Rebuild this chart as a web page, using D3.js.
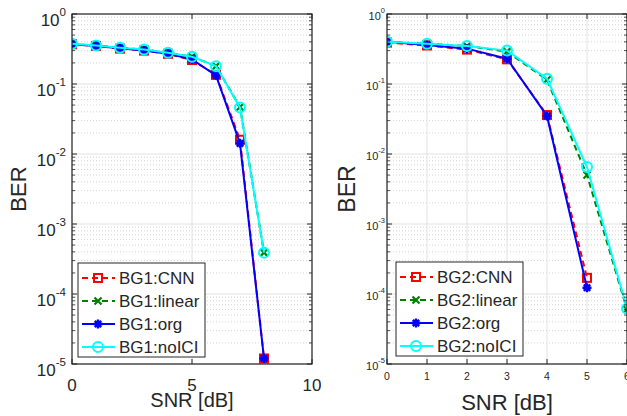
<!DOCTYPE html>
<html><head><meta charset="utf-8">
<script src="https://cdn.jsdelivr.net/npm/d3@7"></script>
<style>body{margin:0;background:#fff}svg{display:block;font-family:"Liberation Sans",Arial,Helvetica,sans-serif}</style>
</head><body><svg id="c" width="627" height="416"></svg>
<script>
const snr1 = [0,1,2,3,4,5,6,7,8];
const bg1CNN    = [0.37,0.35,0.32,0.30,0.27,0.22,0.135,0.016,1.2e-5];
const bg1Linear = [0.37,0.355,0.33,0.31,0.28,0.245,0.18,0.047,3.9e-4];
const bg1Org    = [0.37,0.35,0.325,0.30,0.27,0.225,0.133,0.0142,1.2e-5];
const bg1NoICI  = [0.375,0.355,0.33,0.31,0.28,0.245,0.18,0.046,3.9e-4];

const snr2 = [0,1,2,3,4,5,6];
const bg2CNN    = [0.39,0.355,0.31,0.225,0.036,1.7e-4];
const bg2Linear = [0.40,0.375,0.35,0.29,0.115,0.005,6e-5];
const bg2Org    = [0.40,0.36,0.32,0.23,0.035,1.23e-4];
const bg2NoICI  = [0.40,0.377,0.35,0.30,0.119,0.0065,6.2e-5];

const xTicks1 = [0,5,10];
const xTicks2 = [0,1,2,3,4,5,6];
const yExps = [0,-1,-2,-3,-4,-5];
const labels1 = ["BG1:CNN","BG1:linear","BG1:org","BG1:noICI"];
const labels2 = ["BG2:CNN","BG2:linear","BG2:org","BG2:noICI"];

const styles = [
  {color:"#ff0000", dash:"6,4", marker:"square"},
  {color:"#008000", dash:"6,4", marker:"x"},
  {color:"#0000ff", dash:null, marker:"star"},
  {color:"#00ffff", dash:null, marker:"circle"}
];

const svg = d3.select("#c");
const AX = "#262626";

function marker(g, type, x, y, color){
  if(type==="square"){
    g.append("rect").attr("x",x-4).attr("y",y-4).attr("width",8).attr("height",8)
      .attr("fill","none").attr("stroke",color).attr("stroke-width",2);
  } else if(type==="x"){
    const s=3.5;
    g.append("path").attr("d",`M${x-s},${y-s}L${x+s},${y+s}M${x-s},${y+s}L${x+s},${y-s}`)
      .attr("stroke",color).attr("stroke-width",2.2).attr("fill","none");
  } else if(type==="star"){
    const s=4.5, d=3.2;
    g.append("path").attr("d",`M${x-s},${y}L${x+s},${y}M${x},${y-s}L${x},${y+s}M${x-d},${y-d}L${x+d},${y+d}M${x-d},${y+d}L${x+d},${y-d}`)
      .attr("stroke",color).attr("stroke-width",2.4).attr("fill","none");
  } else {
    g.append("circle").attr("cx",x).attr("cy",y).attr("r",5)
      .attr("fill","none").attr("stroke",color).attr("stroke-width",2);
  }
}

function panel(o){
  const x = d3.scaleLinear().domain(o.xDomain).range([o.x0,o.x1]);
  const y = d3.scaleLog().domain([1e-5,1]).range([o.y1,o.y0]);
  const g = svg.append("g");
  // minor grid
  const minors=[];
  for(let e=-5;e<0;e++) for(let m=2;m<=9;m++) minors.push(m*Math.pow(10,e));
  g.selectAll(null).data(minors).join("line")
    .attr("x1",o.x0).attr("x2",o.x1).attr("y1",d=>y(d)).attr("y2",d=>y(d))
    .attr("stroke","#c8c8c8").attr("stroke-width",0.8).attr("stroke-dasharray","1,2");
  // major grid
  g.selectAll(null).data(yExps.map(e=>Math.pow(10,e))).join("line")
    .attr("x1",o.x0).attr("x2",o.x1).attr("y1",d=>y(d)).attr("y2",d=>y(d))
    .attr("stroke","#e2e2e2").attr("stroke-width",1);
  g.selectAll(null).data(o.xTicks).join("line")
    .attr("x1",d=>x(d)).attr("x2",d=>x(d)).attr("y1",o.y0).attr("y2",o.y1)
    .attr("stroke","#e2e2e2").attr("stroke-width",1);

  // series
  const clipId = "clip"+o.id;
  svg.append("defs").append("clipPath").attr("id",clipId).append("rect")
    .attr("x",o.x0).attr("y",o.y0-8).attr("width",o.x1-o.x0+8).attr("height",o.y1-o.y0+16);
  const sg = svg.append("g").attr("clip-path",`url(#${clipId})`);
  const line = d3.line().x(d=>x(d[0])).y(d=>y(d[1]));
  o.series.forEach((vals,i)=>{
    const st = styles[i];
    const pts = vals.map((v,k)=>[o.snr[k],v]);
    sg.append("path").attr("d",line(pts)).attr("fill","none").attr("stroke",st.color)
      .attr("stroke-width",2).attr("stroke-dasharray",st.dash);
    pts.forEach(p=>marker(sg,st.marker,x(p[0]),y(p[1]),st.color));
  });

  // axes box
  const ag = svg.append("g");
  const yMaj = yExps.map(e=>Math.pow(10,e));
  [o.x0,o.x1].forEach((bx,side)=>{
    const dir = side===0?1:-1;
    ag.selectAll(null).data(yMaj).join("line")
      .attr("x1",bx).attr("x2",bx+dir*5).attr("y1",d=>y(d)).attr("y2",d=>y(d))
      .attr("stroke",AX).attr("stroke-width",1);
    ag.selectAll(null).data(minors).join("line")
      .attr("x1",bx).attr("x2",bx+dir*3).attr("y1",d=>y(d)).attr("y2",d=>y(d))
      .attr("stroke",AX).attr("stroke-width",0.8);
  });
  [o.y0,o.y1].forEach((by,side)=>{
    const dir = side===0?1:-1;
    ag.selectAll(null).data(o.xTicks).join("line")
      .attr("x1",d=>x(d)).attr("x2",d=>x(d)).attr("y1",by).attr("y2",by+dir*5)
      .attr("stroke",AX).attr("stroke-width",1);
  });
  ag.append("rect").attr("x",o.x0).attr("y",o.y0).attr("width",o.x1-o.x0).attr("height",o.y1-o.y0)
    .attr("fill","none").attr("stroke",AX).attr("stroke-width",1.2);

  // y tick labels
  yExps.forEach(e=>{
    const t = ag.append("text").attr("x",o.x0-o.yLabGap).attr("y",y(Math.pow(10,e))+o.yBase)
      .attr("text-anchor","end").attr("fill",AX).style("font-size",o.tickFs+"px");
    t.append("tspan").text("10");
    t.append("tspan").text(String(e)).attr("dy",-o.tickFs*0.55).style("font-size",(o.tickFs*0.68)+"px");
  });
  // x tick labels
  ag.selectAll(null).data(o.xTicks).join("text")
    .attr("x",d=>x(d)).attr("y",o.xLabY).attr("text-anchor","middle").attr("fill",AX)
    .style("font-size",o.xTickFs+"px").text(d=>d);
  // axis labels
  ag.append("text").attr("x",(o.x0+o.x1)/2).attr("y",o.xTitleY).attr("text-anchor","middle")
    .attr("fill",AX).style("font-size",o.titleFs+"px").text("SNR [dB]");
  ag.append("text").attr("transform",`translate(${o.yTitleX},${(o.y0+o.y1)/2}) rotate(-90)`)
    .attr("text-anchor","middle").attr("fill",AX).style("font-size",o.yTitleFs+"px").text("BER");

  // legend
  const lg = svg.append("g");
  lg.append("rect").attr("x",o.lx).attr("y",o.ly).attr("width",o.lw).attr("height",o.lh)
    .attr("fill","#fff").attr("stroke",AX).attr("stroke-width",1);
  o.labels.forEach((lab,i)=>{
    const st=styles[i];
    const cy = o.ly + 15 + i*23;
    lg.append("line").attr("x1",o.lx+4).attr("x2",o.lx+37).attr("y1",cy).attr("y2",cy)
      .attr("stroke",st.color).attr("stroke-width",2).attr("stroke-dasharray",st.dash);
    marker(lg,st.marker,o.lx+20,cy,st.color);
    lg.append("text").attr("x",o.lx+41).attr("y",cy+6).attr("fill",AX)
      .style("font-size","17px").text(lab);
  });
}

panel({id:1, x0:72, x1:312, y0:14, y1:364, xDomain:[0,10], xTicks:xTicks1, snr:snr1,
  series:[bg1CNN,bg1Linear,bg1Org,bg1NoICI], labels:labels1,
  tickFs:17, yBase:11.5, yLabGap:6, xTickFs:17, xLabY:391, titleFs:20, xTitleY:407,
  yTitleX:26, yTitleFs:22, lx:78, ly:263, lw:127, lh:94});
panel({id:2, x0:387, x1:627, y0:14, y1:364, xDomain:[0,6], xTicks:xTicks2, snr:snr2,
  series:[bg2CNN,bg2Linear,bg2Org,bg2NoICI], labels:labels2,
  tickFs:11, yBase:5.5, yLabGap:2, xTickFs:10.5, xLabY:380, titleFs:22, xTitleY:410,
  yTitleX:355, yTitleFs:23, lx:396, ly:262, lw:127, lh:94});
</script></body></html>
